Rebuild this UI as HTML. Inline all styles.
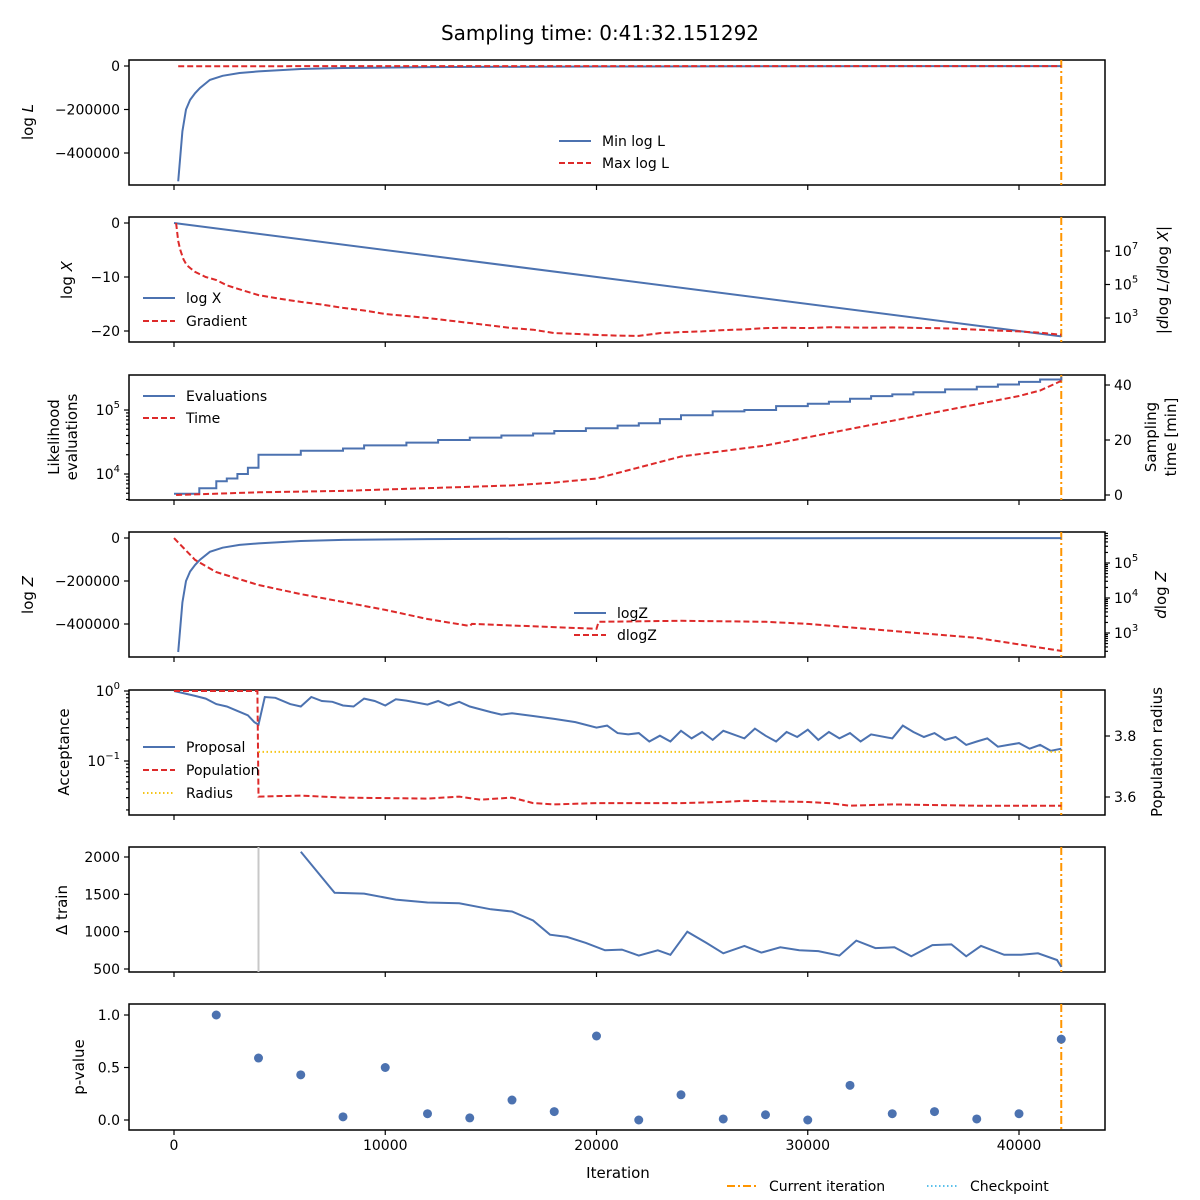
<!DOCTYPE html>
<html><head><meta charset="utf-8">
<style>
html,body{margin:0;padding:0;background:#fff;}
svg{display:block;font-family:"DejaVu Sans","Liberation Sans",sans-serif;}
</style></head>
<body>
<svg id="chart" xmlns="http://www.w3.org/2000/svg" width="1200" height="1200" viewBox="0 0 1200 1200">
<rect width="1200" height="1200" fill="#fff"/>
<text x="600" y="40" text-anchor="middle" font-size="20">Sampling time: 0:41:32.151292</text>
</svg>
<script>
// ---------- data ----------
const minLogLIters = [200,400,570,760,1000,1230,1700,2300,3100,4000,6000,8000,12000,20000,30000,42000];
const minLogLVals = [-530000,-300000,-200000,-156000,-125000,-101000,-64000,-45000,-32000,-25000,-14000,-9000,-5000,-2500,-1000,-500];
const maxLogLIters = [200,42000];
const maxLogLVals = [-1000,-300];
const logXIters = [0,42000];
const logXVals = [0,-21];
const gradIters = [100,200,300,450,600,800,1000,1500,2000,2500,3000,4000,5000,6000,7000,8000,9000,10000,11000,12000,13000,14000,15000,16000,17000,18000,19000,20000,21000,22000,23000,24000,25000,26000,27000,28000,29000,30000,31000,32000,33000,34000,35000,36000,37000,38000,39000,40000,41000,42000];
const gradLog = [8.67,7.6,7.06,6.5,6.16,5.95,5.75,5.45,5.27,4.95,4.75,4.37,4.15,3.96,3.8,3.6,3.45,3.24,3.12,3.0,2.85,2.7,2.55,2.4,2.3,2.1,2.05,1.99,1.95,1.93,2.1,2.16,2.2,2.28,2.32,2.4,2.42,2.4,2.45,2.43,2.42,2.44,2.41,2.4,2.36,2.3,2.25,2.2,2.12,2.0];
const evalIters = [0,1200,2000,2500,3000,3500,4000,6000,8000,9000,11000,12500,14000,15500,17000,18000,19500,21000,22000,23000,24000,25500,27000,28500,30000,31000,32000,33000,34000,35000,36500,38000,39000,40000,41000,42000];
const evalVals = [4900,6000,7700,8500,10000,12500,20000,23000,25000,28000,31000,34000,37000,40000,43000,47000,52000,57000,62000,72000,83000,95000,100000,115000,125000,135000,150000,165000,175000,190000,210000,230000,250000,275000,300000,330000];
const timeIters = [100,4000,8000,10000,14000,16000,18000,20000,21000,22000,23000,24000,26000,28000,30000,32000,34000,36000,38000,40000,41000,42000];
const timeVals = [0,1,1.5,2,3,3.5,4.5,6,8,10,12,14,16,18,21,24,27,30,33,36,38,41.5];
const logZIters = [200,400,570,760,1000,1230,1700,2300,3100,4000,6000,8000,12000,20000,30000,42000];
const logZVals = [-530000,-300000,-200000,-156000,-125000,-101000,-64000,-45000,-32000,-25000,-14000,-9000,-5000,-2500,-1000,-500];
const dlogZIters = [0,1000,2000,4000,6000,8000,10000,12000,14000,14100,20000,20100,24000,28000,30000,34000,38000,42000];
const dlogZLog = [5.71,5.09,4.74,4.37,4.11,3.89,3.66,3.4,3.2,3.26,3.12,3.32,3.35,3.32,3.26,3.06,2.86,2.49];
const propIters = [0,1000,1500,2000,2500,3000,3500,3800,4000,4300,4800,5500,6000,6500,7000,7500,8000,8500,9000,9500,10000,10500,11000,12000,12500,13000,13500,14000,15000,15500,16000,17000,18000,19000,20000,20500,21000,21500,22000,22500,23000,23500,24000,24500,25000,25500,26000,27000,27500,28000,28500,29000,29500,30000,30500,31000,31500,32000,32500,33000,34000,34500,35000,35500,36000,36500,37000,37500,38000,38500,39000,39500,40000,40500,41000,41500,42000];
const propVals = [1.0,0.85,0.78,0.65,0.6,0.52,0.45,0.36,0.33,0.82,0.8,0.65,0.6,0.82,0.72,0.7,0.62,0.6,0.78,0.72,0.62,0.76,0.73,0.64,0.72,0.62,0.7,0.6,0.5,0.46,0.48,0.44,0.4,0.36,0.3,0.32,0.25,0.24,0.25,0.19,0.23,0.19,0.27,0.21,0.26,0.2,0.27,0.21,0.29,0.23,0.19,0.26,0.22,0.28,0.2,0.26,0.21,0.25,0.19,0.24,0.21,0.32,0.26,0.22,0.25,0.2,0.22,0.17,0.19,0.21,0.16,0.17,0.18,0.15,0.17,0.14,0.15];
const popIters = [0,3950,4000,6000,8000,12000,13500,14500,16000,17000,18000,20000,24000,26000,27000,30000,31000,32000,34000,38000,42000];
const popVals = [1.0,1.0,0.031,0.032,0.03,0.029,0.031,0.028,0.03,0.025,0.024,0.025,0.025,0.026,0.027,0.026,0.025,0.023,0.024,0.023,0.023];
const radiusIters = [4000,42000];
const radiusVals = [3.748,3.748];
const trainIters = [6000,7600,9000,10500,12000,13500,15000,16000,17000,17800,18600,19500,20400,21200,22000,22900,23500,24300,25200,26000,27000,27800,28700,29600,30500,31500,32300,33200,34100,34900,35900,36800,37500,38200,39300,40100,40900,41800,42000];
const trainVals = [2070,1520,1510,1430,1390,1380,1300,1270,1150,960,930,850,750,760,680,750,690,1000,850,710,810,720,790,750,740,680,880,780,790,670,820,830,670,810,690,690,710,620,530];
const pIters = [2000,4000,6000,8000,10000,12000,14000,16000,18000,20000,22000,24000,26000,28000,30000,32000,34000,36000,38000,40000,42000];
const pVals = [1.0,0.59,0.43,0.03,0.50,0.06,0.02,0.19,0.08,0.80,0.0,0.24,0.01,0.05,0.0,0.33,0.06,0.08,0.01,0.06,0.77];
const xTicks = [0,10000,20000,30000,40000];
const currentIter = 42000;
const checkpointIter = 4000;

// ---------- helpers ----------
const svg = document.getElementById('chart');
const NS = 'http://www.w3.org/2000/svg';
const L = 129, R = 1105;
const X = i => 174 + i * 0.021125;
const BLUE = '#4c72b0', RED = '#dd2a2a', ORANGE = '#ff9500', GOLD = '#f5c518';
function el(tag, attrs, parent) {
  const e = document.createElementNS(NS, tag);
  for (const k in attrs) e.setAttribute(k, attrs[k]);
  (parent || svg).appendChild(e);
  return e;
}
function poly(iters, vals, ys, stroke, dash, name, step) {
  let pts = [];
  for (let k = 0; k < iters.length; k++) {
    if (step && k > 0) pts.push(X(iters[k]).toFixed(1) + ',' + ys(vals[k - 1]).toFixed(1));
    pts.push(X(iters[k]).toFixed(1) + ',' + ys(vals[k]).toFixed(1));
  }
  const p = el('polyline', {points: pts.join(' '), fill: 'none', stroke: stroke, 'stroke-width': 2});
  if (dash) p.setAttribute('stroke-dasharray', dash);
  
  
}
function txt(x, y, s, opts) {
  const t = el('text', Object.assign({x: x, y: y, 'font-size': 14}, opts || {}));
  t.textContent = s;
  
  
  return t;
}
function powLabel(x, y, exp, anchorRight) {
  const t = el('text', {x: x, y: y, 'font-size': 14, 'text-anchor': anchorRight ? 'end' : 'start'});
  
  
  const a = el('tspan', {}, t); a.textContent = '10';
  const b = el('tspan', {dy: -7, 'font-size': 10}, t); b.textContent = exp;
  return t;
}
function tick(x1, y1, x2, y2) {
  const l = el('line', {x1: x1, y1: y1, x2: x2, y2: y2, stroke: '#000', 'stroke-width': 1.2});
  
  
}
function vlabel(x, y, parts, name) {
  const t = el('text', {x: 0, y: 0, 'font-size': 15, 'text-anchor': 'middle', transform: `translate(${x},${y}) rotate(-90)`});
  
  
  parts.forEach(p => { const s = el('tspan', p[1] ? {'font-style': 'italic'} : {}, t); s.textContent = p[0]; });
  return t;
}
function frame(top, bot, name) {
  const r = el('rect', {x: L, y: top, width: R - L, height: bot - top, fill: 'none', stroke: '#000', 'stroke-width': 1.5});
  
  
  xTicks.forEach(v => tick(X(v), bot, X(v), bot + 5));
  const c = el('line', {x1: X(currentIter), y1: top, x2: X(currentIter), y2: bot, stroke: ORANGE, 'stroke-width': 2, 'stroke-dasharray': '8,3,2,3'});
  
  
}
function legend(x, y0, dy, entries, name) {
  const g = el('g', {});
  
  
  entries.forEach((e, k) => {
    const y = y0 + k * dy;
    const l = el('line', {x1: x, y1: y, x2: x + 32, y2: y, stroke: e[1], 'stroke-width': 2}, g);
    if (e[2]) l.setAttribute('stroke-dasharray', e[2]);
    const t = el('text', {x: x + 43, y: y + 5, 'font-size': 14}, g);
    t.textContent = e[0];
  });
}
function leftTicks(vals, ys, labels) {
  vals.forEach((v, k) => { tick(L - 5, ys(v), L, ys(v)); txt(L - 9, ys(v) + 5, labels[k], {'text-anchor': 'end'}); });
}
function rightTicks(vals, ys, labels) {
  vals.forEach((v, k) => { tick(R, ys(v), R + 5, ys(v)); txt(R + 9, ys(v) + 5, labels[k]); });
}
function minorLog(lo, hi, ys, side, top, bot) {
  for (let d = lo; d < hi; d++) for (let m = 2; m < 10; m++) {
    const y = ys(d + Math.log10(m));
    if (y < top || y > bot) continue;
    if (side === 'L') tick(L - 3, y, L, y); else tick(R, y, R + 3, y);
  }
}

// ---------- panel 1 ----------
const Y1 = v => 66 - v * 0.0002175;
frame(60, 185, 'panel-loglike');
leftTicks([0, -200000, -400000], Y1, ['0', '−200000', '−400000']);
poly(minLogLIters, minLogLVals, Y1, BLUE, null, 'min-logl-line');
poly(maxLogLIters, maxLogLVals, Y1, RED, '6,3', 'max-logl-line');
vlabel(33, 122, [['log '], ['L', 1]], 'y-axis-title-logl');
legend(559, 141, 22, [['Min log L', BLUE], ['Max log L', RED, '6,3']], 'legend-logl');

// ---------- panel 2 ----------
const Y2 = v => 223 - v * 5.4;
const Y2r = l => 251 + (7 - l) * 16.75;
frame(217, 342, 'panel-logx');
leftTicks([0, -10, -20], Y2, ['0', '−10', '−20']);
[7, 5, 3].forEach(e => { tick(R, Y2r(e), R + 5, Y2r(e)); powLabel(R + 9, Y2r(e) + 5, String(e)); });
poly(logXIters, logXVals, Y2, BLUE, null, 'logx-line');
poly(gradIters, gradLog, Y2r, RED, '6,3', 'gradient-line');
vlabel(72, 280, [['log '], ['X', 1]], 'y-axis-title-logx');
vlabel(1168, 280, [['|'], ['d', 1], ['log '], ['L', 1], ['/'], ['d', 1], ['log '], ['X', 1], ['|']], 'y-axis-title-gradient');
legend(143, 298, 23, [['log X', BLUE], ['Gradient', RED, '6,3']], 'legend-logx');

// ---------- panel 3 ----------
const Y3 = v => 474 - (Math.log10(v) - 4) * 64;
const Y3l = l => 474 - (l - 4) * 64;
const Y3r = t => 495 - t * 2.75;
frame(375, 500, 'panel-evaluations');
[5, 4].forEach(e => { tick(L - 5, Y3l(e), L, Y3l(e)); powLabel(L - 9, Y3l(e) + 5, String(e), true); });
minorLog(3, 5, Y3l, 'L', 375, 500);
rightTicks([0, 20, 40], Y3r, ['0', '20', '40']);
poly(evalIters, evalVals, Y3, BLUE, null, 'evaluations-line', true);
poly(timeIters, timeVals, Y3r, RED, '6,3', 'time-line');
vlabel(59, 437, [['Likelihood']], 'y-axis-title-evals-1');
vlabel(77, 437, [['evaluations']], 'y-axis-title-evals-2');
vlabel(1156, 437, [['Sampling']], 'y-axis-title-time-1');
vlabel(1176, 437, [['time [min]']], 'y-axis-title-time-2');
legend(143, 396, 22, [['Evaluations', BLUE], ['Time', RED, '6,3']], 'legend-evals');

// ---------- panel 4 ----------
const Y4 = v => 538 - v * 0.000215;
const Y4r = l => 563 + (5 - l) * 35;
frame(532, 657, 'panel-logz');
leftTicks([0, -200000, -400000], Y4, ['0', '−200000', '−400000']);
[5, 4, 3].forEach(e => { tick(R, Y4r(e), R + 5, Y4r(e)); powLabel(R + 9, Y4r(e) + 5, String(e)); });
minorLog(2, 6, Y4r, 'R', 532, 657);
poly(logZIters, logZVals, Y4, BLUE, null, 'logz-line');
poly(dlogZIters, dlogZLog, Y4r, RED, '6,3', 'dlogz-line');
vlabel(33, 595, [['log '], ['Z', 1]], 'y-axis-title-logz');
vlabel(1166, 595, [['d', 1], ['log '], ['Z', 1]], 'y-axis-title-dlogz');
legend(574, 613, 22, [['logZ', BLUE], ['dlogZ', RED, '6,3']], 'legend-logz');

// ---------- panel 5 ----------
const Y5 = v => 691 - Math.log10(v) * 70;
const Y5l = l => 691 - l * 70;
const Y5r = r => 736 + (3.8 - r) * 305;
frame(690, 815, 'panel-acceptance');
tick(L - 5, Y5l(0), L, Y5l(0)); powLabel(L - 9, Y5l(0) + 5, '0', true);
tick(L - 5, Y5l(-1), L, Y5l(-1)); powLabel(L - 9, Y5l(-1) + 5, '−1', true);
minorLog(-2, 0, Y5l, 'L', 690, 815);
rightTicks([3.8, 3.6], Y5r, ['3.8', '3.6']);
poly(propIters, propVals, Y5, BLUE, null, 'proposal-line');
poly(popIters, popVals, Y5, RED, '6,3', 'population-line');
poly(radiusIters, radiusVals, Y5r, GOLD, '1.5,2.5', 'radius-line');
vlabel(69, 752, [['Acceptance']], 'y-axis-title-acceptance');
vlabel(1162, 752, [['Population radius']], 'y-axis-title-radius');
legend(143, 747, 23, [['Proposal', BLUE], ['Population', RED, '6,3'], ['Radius', GOLD, '1.5,2.5']], 'legend-acceptance');

// ---------- panel 6 ----------
const Y6 = v => 969 - (v - 500) * 0.07467;
frame(847, 972, 'panel-delta-train');
leftTicks([2000, 1500, 1000, 500], Y6, ['2000', '1500', '1000', '500']);
const cp = el('line', {x1: X(checkpointIter), y1: 847, x2: X(checkpointIter), y2: 972, stroke: '#c8c8c8', 'stroke-width': 2});


poly(trainIters, trainVals, Y6, BLUE, null, 'delta-train-line');
vlabel(67, 910, [['Δ train']], 'y-axis-title-train');

// ---------- panel 7 ----------
const Y7 = v => 1120 - v * 105;
frame(1004, 1130, 'panel-pvalue');
leftTicks([1.0, 0.5, 0.0], Y7, ['1.0', '0.5', '0.0']);
pIters.forEach((it, k) => {
  const c = el('circle', {cx: X(it), cy: Y7(pVals[k]), r: 4.5, fill: BLUE});
  
  
});
vlabel(84, 1067, [['p-value']], 'y-axis-title-pvalue');
xTicks.forEach(v => txt(X(v), 1150, String(v), {'text-anchor': 'middle'}));
const xl = txt(618, 1178, 'Iteration', {'text-anchor': 'middle', 'font-size': 15});


// bottom legend
const g = el('g', {});


el('line', {x1: 727, y1: 1186, x2: 759, y2: 1186, stroke: ORANGE, 'stroke-width': 2, 'stroke-dasharray': '8,3,2,3'}, g);
el('text', {x: 769, y: 1191, 'font-size': 14}, g).textContent = 'Current iteration';
el('line', {x1: 927, y1: 1186, x2: 959, y2: 1186, stroke: '#5bc0eb', 'stroke-width': 2, 'stroke-dasharray': '1.5,2.5'}, g);
el('text', {x: 970, y: 1191, 'font-size': 14}, g).textContent = 'Checkpoint';
</script>
</body></html>
